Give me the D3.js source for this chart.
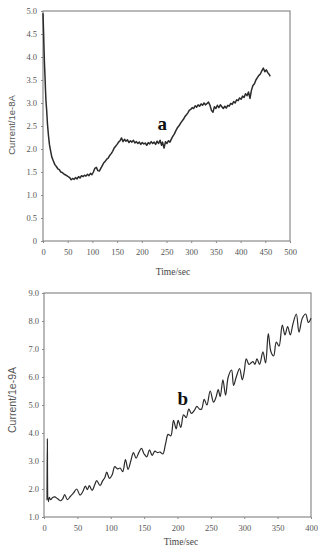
<!DOCTYPE html>
<html>
<head>
<meta charset="utf-8">
<script src="https://cdn.jsdelivr.net/npm/d3@7"></script>
<style>
  body { margin: 0; background: #fff; }
  svg { display: block; }
</style>
</head>
<body>
<div id="chart"></div>
<script>
// chart a: current (1e-8 A) vs time
const timeA = [0, 1, 2, 3, 4, 5, 6, 7.5, 9, 11, 13, 15, 18, 21, 24, 27, 30, 33, 36, 39, 42, 45, 48, 51, 54, 57, 60, 63, 66, 69, 72, 75, 78, 81, 84, 87, 90, 93, 96, 99, 102, 105, 108, 111, 114, 117, 120, 123, 126, 129, 132, 135, 138, 141, 144, 147, 150, 153, 156, 159, 162, 165, 168, 171, 174, 177, 180, 183, 186, 189, 192, 195, 198, 201, 204, 207, 210, 213, 216, 219, 222, 225, 228, 231, 234, 237, 240, 242, 245, 248, 251, 254, 257, 260, 263, 266, 269, 272, 275, 278, 281, 284, 287, 290, 293, 296, 299, 302, 305, 308, 311, 314, 317, 320, 323, 326, 329, 332, 335, 338, 341, 344, 347, 350, 353, 356, 359, 362, 365, 368, 371, 374, 377, 380, 383, 386, 389, 392, 395, 398, 401, 404, 407, 410, 413, 416, 419, 422, 425, 428, 431, 434, 437, 440, 443, 446, 449, 452, 455, 458, 460];
const currentA = [4.95, 4.6, 4.2, 3.85, 3.6, 3.3, 3.05, 2.83, 2.55, 2.3, 2.1, 1.98, 1.82, 1.74, 1.66, 1.62, 1.57, 1.55, 1.50, 1.49, 1.46, 1.44, 1.42, 1.40, 1.38, 1.33, 1.36, 1.34, 1.38, 1.35, 1.40, 1.37, 1.42, 1.40, 1.43, 1.41, 1.45, 1.42, 1.47, 1.44, 1.50, 1.58, 1.60, 1.53, 1.52, 1.58, 1.64, 1.70, 1.73, 1.78, 1.80, 1.86, 1.90, 1.95, 2.02, 2.06, 2.10, 2.15, 2.18, 2.24, 2.16, 2.21, 2.17, 2.20, 2.14, 2.18, 2.15, 2.19, 2.13, 2.16, 2.12, 2.15, 2.10, 2.14, 2.11, 2.13, 2.08, 2.14, 2.11, 2.16, 2.12, 2.15, 2.10, 2.17, 2.12, 2.19, 2.08, 2.15, 2.02, 2.16, 2.12, 2.18, 2.15, 2.22, 2.28, 2.33, 2.40, 2.46, 2.50, 2.55, 2.60, 2.64, 2.70, 2.74, 2.78, 2.84, 2.86, 2.90, 2.88, 2.94, 2.91, 2.96, 2.93, 2.98, 2.95, 3.00, 2.96, 2.99, 3.02, 2.95, 2.84, 2.80, 2.92, 2.88, 2.95, 2.90, 2.96, 2.92, 2.88, 2.93, 2.89, 2.95, 2.93, 2.99, 2.97, 3.03, 3.00, 3.07, 3.05, 3.11, 3.08, 3.15, 3.12, 3.20, 3.16, 3.24, 3.10, 3.28, 3.38, 3.42, 3.50, 3.55, 3.60, 3.63, 3.70, 3.76, 3.68, 3.72, 3.66, 3.62, 3.58];

// chart b: current (1e-9 A) vs time
const timeB = [4.5, 5, 6.5, 8, 10, 13, 16, 20, 25, 28, 31, 35, 40, 44, 49, 54, 58, 62, 65, 68, 72, 76, 79, 84, 88, 91, 94, 98, 102, 106, 110, 114, 118, 122, 126, 130, 134, 138, 142, 146, 150, 154, 158, 162, 166, 170, 174, 178, 182, 186, 190, 194, 198, 201, 205, 209, 213, 217, 221, 225, 229, 233, 236, 240, 244, 249, 254, 258, 261, 264, 268, 272, 276, 281, 284, 288, 293, 297, 300, 303, 307, 310, 313, 316, 319, 323, 328, 332, 336, 340, 344, 348, 352, 357, 361, 365, 369, 373, 378, 382, 387, 392, 396, 400];
const currentB = [1.6, 3.8, 1.55, 1.7, 1.62, 1.7, 1.72, 1.66, 1.58, 1.65, 1.8, 1.62, 1.75, 1.85, 2.0, 1.78, 1.9, 2.1, 1.98, 2.12, 1.95, 2.15, 2.3, 2.12, 2.3, 2.4, 2.6, 2.38, 2.5, 2.8, 2.72, 2.75, 2.62, 3.05, 2.7, 3.0, 3.3, 3.1, 3.3, 3.45, 3.25, 3.15, 3.4, 3.2, 3.35, 3.3, 3.32, 3.25, 3.6, 3.95, 3.9, 4.45, 4.15, 4.45, 4.2, 4.65, 4.55, 4.85, 4.7, 4.8, 4.95, 4.85, 4.85, 5.2, 5.0, 5.5, 5.1, 5.3, 5.55, 5.3, 5.9, 5.35, 6.0, 6.25, 5.7, 6.0, 6.3, 5.9, 6.2, 6.65, 6.45, 6.5, 6.55, 6.45, 6.65, 6.45, 6.9, 6.5, 7.55, 6.9, 6.75, 7.25, 7.1, 7.85, 7.5, 7.8, 7.5, 7.9, 8.25, 7.6, 8.1, 8.25, 7.95, 8.1];

// tick labels
const xTicksA = [0, 50, 100, 150, 200, 250, 300, 350, 400, 450, 500];
const yTicksA = [0, 0.5, 1.0, 1.5, 2.0, 2.5, 3.0, 3.5, 4.0, 4.5, 5.0];
const xTicksB = [0, 50, 100, 150, 200, 250, 300, 350, 400];
const yTicksB = [1.0, 2.0, 3.0, 4.0, 5.0, 6.0, 7.0, 8.0, 9.0];

const width = 320;
const height = 550;

const svg = d3.select('#chart').append('svg')
  .attr('width', width)
  .attr('height', height);

const axisColor = '#8a8a8a';
const textColor = '#555';

// draw one framed panel; box = [left, top, right, bottom] in page pixels
function drawPanel(opts) {
  const [left, top, right, bottom] = opts.box;
  const x = d3.scaleLinear().domain(opts.xDomain).range([left, right]);
  const y = d3.scaleLinear().domain(opts.yDomain).range([bottom, top]);

  // frame
  svg.append('rect')
    .attr('x', left)
    .attr('y', top)
    .attr('width', right - left)
    .attr('height', bottom - top)
    .attr('fill', 'none')
    .attr('stroke', axisColor)
    .attr('stroke-width', 1.2);

  // x axis
  const xAxis = svg.append('g')
    .attr('transform', 'translate(0,' + bottom + ')')
    .call(d3.axisBottom(x).tickValues(opts.xTicks).tickSize(2).tickPadding(opts.xPad).tickFormat(d3.format('d')));
  // y axis
  const yAxis = svg.append('g')
    .attr('transform', 'translate(' + left + ',0)')
    .call(d3.axisLeft(y).tickValues(opts.yTicks).tickSize(2).tickPadding(opts.yPad).tickFormat(opts.yFormat));

  [xAxis, yAxis].forEach(a => {
    a.select('.domain').remove();
    a.selectAll('line').attr('stroke', axisColor);
    a.selectAll('text')
      .attr('fill', textColor)
      .attr('font-family', '"Liberation Serif", "DejaVu Serif", serif')
      .attr('font-size', 8.5);
  });

  // series line
  const data = opts.times.map((t, i) => [t, opts.values[i]]);
  svg.append('path')
    .datum(data)
    .attr('fill', 'none')
    .attr('stroke', '#2b2b2b')
    .attr('stroke-width', opts.lineWidth)
    .attr('stroke-linejoin', 'round')
    .attr('d', d3.line().x(d => x(d[0])).y(d => y(d[1])).curve(opts.curve));

  // axis titles
  svg.append('text')
    .attr('transform', 'translate(' + opts.yTitle[1] + ',' + opts.yTitle[2] + ') rotate(-90)')
    .attr('text-anchor', 'middle')
    .attr('fill', textColor)
    .attr('font-family', '"Liberation Sans", Arial, sans-serif')
    .attr('font-size', opts.yTitle[3])
    .text(opts.yTitle[0]);

  svg.append('text')
    .attr('x', opts.xTitle[1])
    .attr('y', opts.xTitle[2])
    .attr('text-anchor', 'middle')
    .attr('fill', '#444')
    .attr('font-family', '"Liberation Serif", "DejaVu Serif", serif')
    .attr('font-size', 9.5)
    .text(opts.xTitle[0]);

  // panel letter
  svg.append('text')
    .attr('x', x(opts.letter[1]))
    .attr('y', y(opts.letter[2]))
    .attr('fill', '#111')
    .attr('font-family', '"Liberation Serif", "DejaVu Serif", serif')
    .attr('font-weight', 'bold')
    .attr('font-size', 19)
    .text(opts.letter[0]);
}

drawPanel({
  box: [43, 11, 290, 241],
  xDomain: [0, 500],
  yDomain: [0, 5],
  xTicks: xTicksA,
  yTicks: yTicksA,
  yFormat: d => d === 0 ? '0' : d3.format('.1f')(d),
  xPad: 6,
  yPad: 4,
  times: timeA,
  values: currentA,
  lineWidth: 1.5,
  curve: d3.curveLinear,
  yTitle: ['Current/1e-8A', 15, 125, 9.5],
  xTitle: ['Time/sec', 173, 275],
  letter: ['a', 232, 2.42]
});

drawPanel({
  box: [44, 293, 311, 517],
  xDomain: [0, 400],
  yDomain: [1, 9],
  xTicks: xTicksB,
  yTicks: yTicksB,
  yFormat: d3.format('.1f'),
  xPad: 6,
  yPad: 3,
  times: timeB,
  values: currentB,
  lineWidth: 1.2,
  curve: d3.curveCatmullRom,
  yTitle: ['Current/1e-9A', 16, 400, 10.5],
  xTitle: ['Time/sec', 181, 545],
  letter: ['b', 200, 5.0]
});
</script>
</body>
</html>
